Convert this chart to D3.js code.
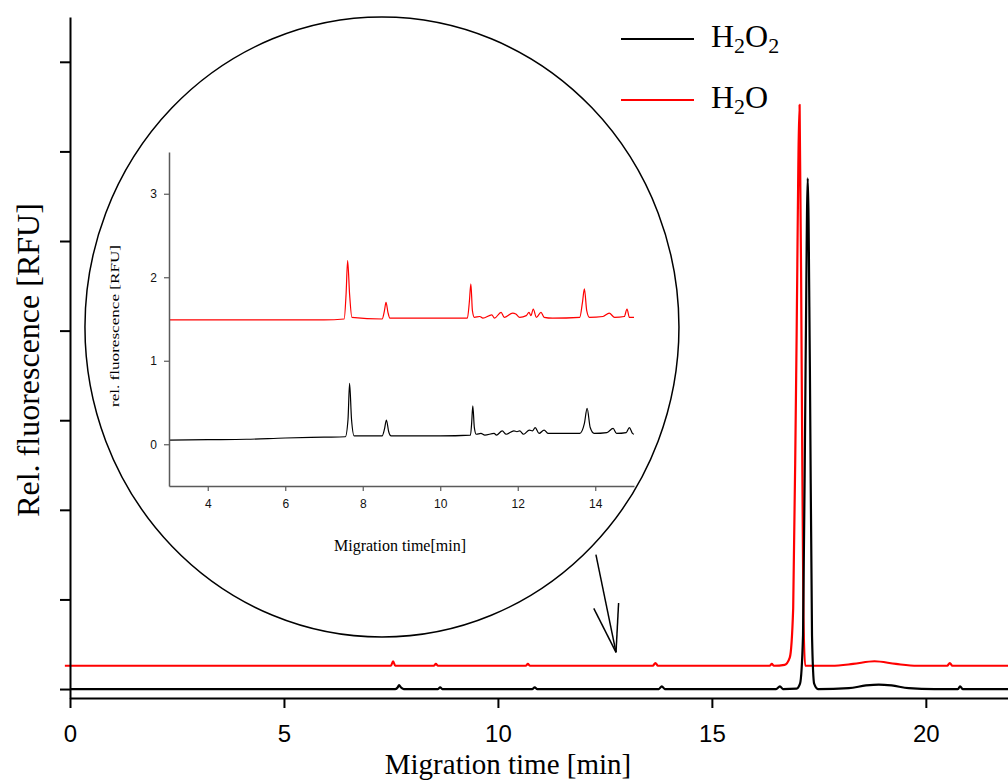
<!DOCTYPE html>
<html>
<head>
<meta charset="utf-8">
<script src="https://cdn.jsdelivr.net/npm/d3@7"></script>
<style>
  html, body { margin: 0; padding: 0; background: #fff; }
  svg { display: block; }
</style>
</head>
<body>
<svg id="chart" width="1008" height="781"></svg>
<script>
// ---- Electropherogram: full run (min, relative units) ----
const seriesNames = ["H2O2", "H2O"];
const seriesColors = ["#000000", "#ff0000"];

const mainTimeH2O2 = [0, 1.0, 3.0, 5.0, 7.6, 7.66, 7.69, 7.73, 7.8, 8.6, 8.65, 8.7, 10.8, 10.86, 10.92,
  13.76, 13.83, 13.9, 16.5, 16.59, 16.66, 16.98, 17.06, 17.13, 17.19, 17.24, 17.29, 17.34, 17.39, 17.48,
  18.2, 18.6, 18.9, 19.2, 19.6, 20.2, 20.75, 20.8, 20.86, 21.95];
const mainValH2O2 = [0, 0, 0, 0, 0, 0.02, 0.045, 0.02, 0, 0, 0.02, 0, 0, 0.02, 0,
  0, 0.03, 0, 0, 0.03, 0, 0.005, 0.06, 0.6, 3.6, 5.7, 3.6, 0.6, 0.06, 0,
  0.01, 0.04, 0.05, 0.04, 0.01, 0, 0, 0.03, 0, 0];

const mainTimeH2O = [-0.12, 3.0, 5.0, 7.5, 7.55, 7.6, 8.5, 8.55, 8.6, 10.65, 10.7, 10.75, 13.62, 13.68, 13.74,
  16.35, 16.4, 16.45, 16.7, 16.82, 16.9, 16.97, 17.05, 17.1, 17.14, 17.18, 17.8, 18.3, 18.8, 19.3, 19.8,
  20.5, 20.56, 20.62, 21.95];
const mainValH2O = [0.26, 0.26, 0.26, 0.26, 0.31, 0.26, 0.26, 0.28, 0.26, 0.26, 0.28, 0.26, 0.26, 0.29, 0.26,
  0.26, 0.28, 0.26, 0.27, 0.35, 0.9, 3.5, 6.52, 3.5, 0.8, 0.26, 0.26, 0.28, 0.31, 0.28, 0.26,
  0.26, 0.29, 0.26, 0.26];

const mainXTicks = [0, 5, 10, 15, 20];
const mainYTicks = [0, 1, 2, 3, 4, 5, 6, 7];

// ---- Enlarged window 3–15 min ----
const insetTimeH2O2 = [3.0, 4.0, 5.0, 6.0, 7.0, 7.55, 7.62, 7.66, 7.71, 7.78, 8.5, 8.56, 8.61, 8.67, 8.73,
  10.0, 10.78, 10.81, 10.84, 10.88, 10.93, 11.05, 11.15, 11.39, 11.45, 11.6, 11.7, 11.9, 11.98, 12.05, 12.15,
  12.3, 12.38, 12.45, 12.55, 12.68, 12.78, 13.6, 13.72, 13.79, 13.87, 13.97, 14.3, 14.46, 14.55, 14.8, 14.88,
  14.96, 15.0];
const insetValH2O2 = [0.05, 0.055, 0.06, 0.075, 0.085, 0.09, 0.3, 0.73, 0.3, 0.1, 0.1, 0.18, 0.29, 0.15, 0.1,
  0.1, 0.11, 0.25, 0.46, 0.2, 0.12, 0.13, 0.11, 0.13, 0.11, 0.16, 0.12, 0.16, 0.15, 0.16, 0.12,
  0.17, 0.16, 0.2, 0.13, 0.17, 0.13, 0.13, 0.25, 0.43, 0.2, 0.13, 0.14, 0.19, 0.13, 0.14, 0.2,
  0.13, 0.12];

const insetTimeH2O = [3.0, 5.0, 7.0, 7.52, 7.57, 7.61, 7.66, 7.72, 8.5, 8.56, 8.6, 8.65, 8.7, 10.7, 10.75, 10.79,
  10.83, 10.88, 11.02, 11.1, 11.33, 11.4, 11.57, 11.65, 11.87, 11.95, 12.05, 12.22, 12.29, 12.34, 12.4, 12.48,
  12.6, 12.68, 12.9, 13.6, 13.67, 13.72, 13.78, 13.85, 14.2, 14.36, 14.5, 14.75, 14.82, 14.88, 15.0];
const insetValH2O = [1.49, 1.49, 1.49, 1.5, 1.8, 2.2, 1.8, 1.52, 1.5, 1.6, 1.7, 1.58, 1.51, 1.51, 1.7, 1.92,
  1.6, 1.52, 1.53, 1.51, 1.55, 1.51, 1.58, 1.52, 1.57, 1.56, 1.52, 1.54, 1.58, 1.54, 1.62, 1.52,
  1.58, 1.52, 1.51, 1.52, 1.7, 1.86, 1.6, 1.52, 1.53, 1.57, 1.52, 1.53, 1.62, 1.52, 1.52];

const insetXTicks = [4, 6, 8, 10, 12, 14];
const insetYTicks = [0, 1, 2, 3];

const svg = d3.select("#chart");
const serif = "'Liberation Serif', 'Times New Roman', serif";
const sans = "'Liberation Sans', Arial, sans-serif";

// ---------- main plot ----------
const x = d3.scaleLinear().domain([0, 21.92]).range([70, 1008]);
const y = d3.scaleLinear().domain([-0.1, 7.5]).range([698, 17]);

const line = d3.line().x(d => x(d[0])).y(d => y(d[1])).curve(d3.curveMonotoneX);

const mainSeries = [
  d3.zip(mainTimeH2O2, mainValH2O2),
  d3.zip(mainTimeH2O, mainValH2O)
];
// red trace first, black on top
[1, 0].forEach(i => {
  svg.append("path")
    .datum(mainSeries[i])
    .attr("fill", "none")
    .attr("stroke", seriesColors[i])
    .attr("stroke-width", 2.2)
    .attr("stroke-linejoin", "round")
    .attr("d", line);
});

const xAxis = svg.append("g")
  .attr("transform", `translate(0,${y.range()[0]})`)
  .call(d3.axisBottom(x).tickValues(mainXTicks).tickSize(10).tickSizeOuter(0).tickPadding(17));
xAxis.select(".domain").attr("stroke-width", 2);
xAxis.selectAll(".tick line").attr("stroke-width", 2);
xAxis.selectAll("text").attr("font-family", sans).attr("font-size", 24).attr("fill", "#000");

const yAxis = svg.append("g")
  .attr("transform", `translate(${x.range()[0]},0)`)
  .call(d3.axisLeft(y).tickValues(mainYTicks).tickSize(10).tickSizeOuter(0).tickFormat(""));
yAxis.select(".domain").attr("stroke-width", 2);
yAxis.selectAll(".tick line").attr("stroke-width", 2);

svg.append("text")
  .attr("x", 508).attr("y", 774)
  .attr("text-anchor", "middle")
  .attr("font-family", serif).attr("font-size", 29)
  .text("Migration time [min]");

svg.append("text")
  .attr("transform", "translate(39,360) rotate(-90)")
  .attr("text-anchor", "middle")
  .attr("font-family", serif).attr("font-size", 32)
  .text("Rel. fluorescence [RFU]");

// ---------- legend ----------
const legend = svg.append("g");
const legendRows = [
  { name: seriesNames[0], color: seriesColors[0], y: 39, parts: [["H", 0], ["2", 1], ["O", 0], ["2", 1]] },
  { name: seriesNames[1], color: seriesColors[1], y: 100, parts: [["H", 0], ["2", 1], ["O", 0]] }
];
legendRows.forEach(r => {
  legend.append("line")
    .attr("x1", 621).attr("x2", 694).attr("y1", r.y).attr("y2", r.y)
    .attr("stroke", r.color).attr("stroke-width", 2);
  const t = legend.append("text")
    .attr("x", 711).attr("y", r.y + 8)
    .attr("font-family", serif).attr("font-size", 32);
  let prevSub = false;
  r.parts.forEach(([s, sub]) => {
    const ts = t.append("tspan").text(s);
    if (sub) { ts.attr("font-size", 22).attr("dy", prevSub ? 0 : 6); }
    else { ts.attr("dy", prevSub ? -6 : 0); }
    prevSub = !!sub;
  });
});

// ---------- magnifier outline and pointer ----------
svg.append("ellipse")
  .attr("cx", x(7.29)).attr("cy", y(4.04))
  .attr("rx", 297).attr("ry", 310)
  .attr("fill", "none").attr("stroke", "#000").attr("stroke-width", 1.5);

const arrowTip = [12.76, 0.41];
const arrowLines = [
  [[12.29, 1.5], arrowTip],
  [[12.24, 0.9], arrowTip],
  [[12.82, 0.96], arrowTip]
];
arrowLines.forEach(([a, b]) => {
  svg.append("line")
    .attr("x1", x(a[0])).attr("y1", y(a[1]))
    .attr("x2", x(b[0])).attr("y2", y(b[1]))
    .attr("stroke", "#000").attr("stroke-width", 1.5);
});

// ---------- inset plot ----------
const ix = d3.scaleLinear().domain([3, 15]).range([169, 634]);
const iy = d3.scaleLinear().domain([-0.5, 3.5]).range([486, 152]);
const iline = d3.line().x(d => ix(d[0])).y(d => iy(d[1])).curve(d3.curveMonotoneX);

const insetSeries = [
  d3.zip(insetTimeH2O2, insetValH2O2),
  d3.zip(insetTimeH2O, insetValH2O)
];
insetSeries.forEach((s, i) => {
  svg.append("path")
    .datum(s)
    .attr("fill", "none")
    .attr("stroke", seriesColors[i])
    .attr("stroke-width", 1.2)
    .attr("stroke-linejoin", "round")
    .attr("d", iline);
});

const axisGray = "#5a5a5a";
const ixAxis = svg.append("g")
  .attr("transform", `translate(0,${iy.range()[0]})`)
  .call(d3.axisBottom(ix).tickValues(insetXTicks).tickFormat(d3.format("d"))
    .tickSize(5).tickSizeOuter(0).tickPadding(8));
const iyAxis = svg.append("g")
  .attr("transform", `translate(${ix.range()[0]},0)`)
  .call(d3.axisLeft(iy).tickValues(insetYTicks).tickFormat(d3.format("d"))
    .tickSize(5).tickSizeOuter(0).tickPadding(7));
[ixAxis, iyAxis].forEach(g => {
  g.select(".domain").attr("stroke", axisGray).attr("stroke-width", 1.5);
  g.selectAll(".tick line").attr("stroke", axisGray).attr("stroke-width", 1.2);
  g.selectAll("text").attr("font-family", sans).attr("font-size", 12).attr("fill", "#111");
});

svg.append("text")
  .attr("x", 400).attr("y", 551)
  .attr("text-anchor", "middle")
  .attr("font-family", serif).attr("font-size", 16)
  .text("Migration time[min]");

svg.append("text")
  .attr("transform", "translate(119,326) rotate(-90)")
  .attr("text-anchor", "middle")
  .attr("font-family", serif).attr("font-size", 13)
  .attr("textLength", 162).attr("lengthAdjust", "spacingAndGlyphs")
  .text("rel. fluorescence [RFU]");
</script>
</body>
</html>
